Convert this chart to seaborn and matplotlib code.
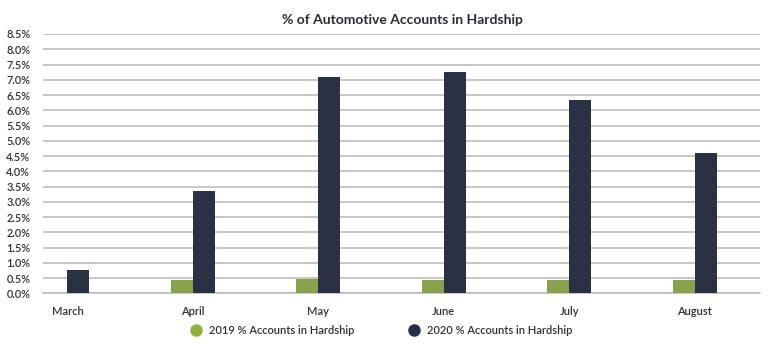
import matplotlib
matplotlib.use("Agg")
import matplotlib.pyplot as plt
import seaborn as sns
import pandas as pd
import numpy as np
from matplotlib.lines import Line2D
from matplotlib.ticker import FuncFormatter

# ---- data ----
months = ["March", "April", "May", "June", "July", "August"]
series = ["2019 % Accounts in Hardship", "2020 % Accounts in Hardship"]
pct_2019 = [np.nan, 0.45, 0.46, 0.45, 0.45, 0.45]
pct_2020 = [0.75, 3.35, 7.10, 7.25, 6.35, 4.60]
y_ticks = [0.0, 0.5, 1.0, 1.5, 2.0, 2.5, 3.0, 3.5, 4.0, 4.5,
           5.0, 5.5, 6.0, 6.5, 7.0, 7.5, 8.0, 8.5]
title = "% of Automotive Accounts in Hardship"

colors = {series[0]: "#8db03e", series[1]: "#262f48"}

df = pd.DataFrame({
    "Month": months * 2,
    "Series": [series[0]] * len(months) + [series[1]] * len(months),
    "Value": pct_2019 + pct_2020,
})

sns.set_theme(style="white")
plt.rcParams["font.family"] = ["Lato", "DejaVu Sans"]

fig = plt.figure(figsize=(7.7, 3.56), dpi=100)
ax = fig.add_axes([0.0558, 0.176, 0.931, 0.7285])

sns.barplot(data=df, x="Month", y="Value", hue="Series", order=months,
            hue_order=series, palette=colors, width=0.35, ax=ax,
            legend=False, zorder=3, linewidth=0)

ax.set_ylim(0, 8.5)
ax.set_xlim(-0.195, 5.52)
ax.set_yticks(y_ticks)
ax.yaxis.set_major_formatter(FuncFormatter(lambda v, p: f"{v:.1f}%"))
ax.grid(axis="y", color="#b8b8b8", linewidth=1.1, zorder=0)
ax.grid(axis="x", visible=False)
for s in ["top", "right", "left"]:
    ax.spines[s].set_visible(False)
ax.spines["bottom"].set_color("#b8b8b8")
ax.spines["bottom"].set_linewidth(1.1)
ax.set_xlabel("")
ax.set_ylabel("")
ax.tick_params(axis="y", length=0, pad=9, labelsize=7.8, labelcolor="#2f2f35")
ax.tick_params(axis="x", length=0, pad=9, labelsize=8, labelcolor="#2f2f35")
for lab in ax.get_xticklabels() + ax.get_yticklabels():
    lab.set_fontweight("semibold")

fig.text(0.522, 0.944, title, ha="center", va="center", fontsize=10,
         fontweight="bold", color="#2b2b33")

handles = [Line2D([0], [0], marker="o", linestyle="", markersize=8,
                  markerfacecolor=colors[s], markeredgecolor=colors[s]) for s in series]
leg = fig.legend(handles, series, loc="center", bbox_to_anchor=(0.4916, 0.073), ncol=2,
                 frameon=False, fontsize=8, handletextpad=0.2, columnspacing=4.3,
                 labelcolor="#2f2f35", prop={"size": 8, "weight": "semibold"})

fig.savefig("out.png", dpi=100)
